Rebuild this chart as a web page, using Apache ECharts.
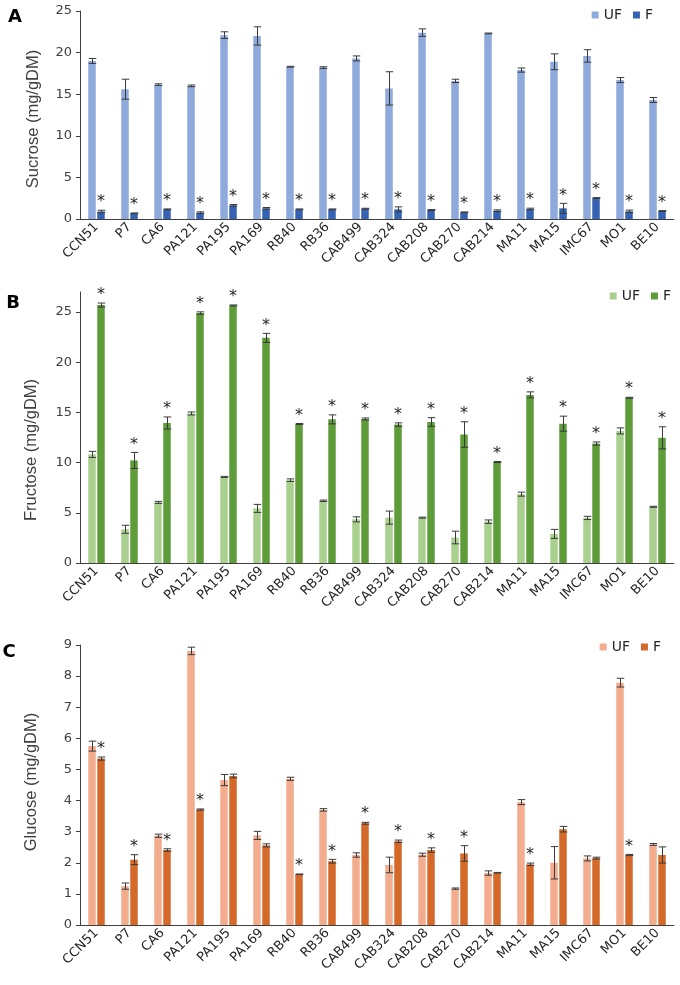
<!DOCTYPE html>
<html><head><meta charset="utf-8">
<script src="https://cdn.jsdelivr.net/npm/echarts@6/dist/echarts.min.js"></script>
<style>html,body{margin:0;padding:0;background:#fff}#chart{width:680px;height:985px}</style>
</head><body><div id="chart"></div>
<script>
const categories = ['CCN51','P7','CA6','PA121','PA195','PA169','RB40','RB36','CAB499','CAB324','CAB208','CAB270','CAB214','MA11','MA15','IMC67','MO1','BE10'];

// Panel A - Sucrose
const sucroseUF    = [19.0, 15.6, 16.15, 16.0, 22.1, 22.0, 18.3, 18.2, 19.3, 15.7, 22.4, 16.6, 22.3, 17.9, 18.9, 19.6, 16.7, 14.3];
const sucroseUFErr = [0.3, 1.2, 0.1, 0.1, 0.4, 1.1, 0.05, 0.1, 0.3, 2.0, 0.45, 0.2, 0.05, 0.25, 0.95, 0.75, 0.3, 0.3];
const sucroseF     = [0.9, 0.68, 1.16, 0.76, 1.64, 1.28, 1.16, 1.16, 1.24, 1.16, 1.08, 0.8, 1.0, 1.2, 1.28, 2.52, 0.92, 0.96];
const sucroseFErr  = [0.15, 0.05, 0.05, 0.1, 0.1, 0.1, 0.05, 0.05, 0.05, 0.3, 0.05, 0.05, 0.1, 0.1, 0.6, 0.05, 0.15, 0.05];
const sucroseSig   = [1,1,1,1,1,1,1,1,1,1,1,1,1,1,1,1,1,1];

// Panel B - Fructose
const fructoseUF    = [10.82, 3.36, 6.04, 14.9, 8.58, 5.44, 8.25, 6.2, 4.35, 4.52, 4.52, 2.54, 4.12, 6.86, 2.9, 4.49, 13.16, 5.6];
const fructoseUFErr = [0.3, 0.4, 0.1, 0.15, 0.05, 0.4, 0.13, 0.07, 0.25, 0.65, 0.05, 0.63, 0.17, 0.2, 0.45, 0.16, 0.3, 0.05];
const fructoseF     = [25.7, 10.22, 13.95, 24.9, 25.66, 22.43, 13.85, 14.31, 14.35, 13.79, 14.05, 12.8, 10.06, 16.75, 13.88, 11.9, 16.46, 12.47];
const fructoseFErr  = [0.2, 0.8, 0.6, 0.12, 0.05, 0.45, 0.05, 0.45, 0.1, 0.17, 0.43, 1.27, 0.05, 0.3, 0.75, 0.16, 0.05, 1.1];
const fructoseSig   = [1,1,1,1,1,1,1,1,1,1,1,1,1,1,1,1,1,1];

// Panel C - Glucose
const glucoseUF    = [5.75, 1.25, 2.87, 8.81, 4.66, 2.88, 4.7, 3.7, 2.25, 1.93, 2.26, 1.17, 1.67, 3.95, 2.0, 2.14, 7.79, 2.59];
const glucoseUFErr = [0.16, 0.1, 0.05, 0.12, 0.18, 0.13, 0.05, 0.04, 0.07, 0.25, 0.05, 0.02, 0.07, 0.08, 0.52, 0.08, 0.14, 0.03];
const glucoseF     = [5.35, 2.1, 2.41, 3.71, 4.79, 2.56, 1.63, 2.05, 3.27, 2.69, 2.41, 2.3, 1.68, 1.95, 3.08, 2.15, 2.25, 2.25];
const glucoseFErr  = [0.05, 0.16, 0.04, 0.02, 0.06, 0.05, 0.01, 0.06, 0.03, 0.04, 0.07, 0.25, 0.01, 0.04, 0.09, 0.03, 0.02, 0.26];
const glucoseSig   = [1,1,1,1,0,0,1,1,1,1,1,1,0,1,0,0,1,0];

const yTicksA = [0, 5, 10, 15, 20, 25];
const yTicksB = [0, 5, 10, 15, 20, 25];
const yTicksC = [0, 1, 2, 3, 4, 5, 6, 7, 8, 9];

const panels = [
  { key: 'A', title: 'Sucrose (mg/gDM)', uf: sucroseUF, ufErr: sucroseUFErr, f: sucroseF, fErr: sucroseFErr, sig: sucroseSig,
    ticks: yTicksA, max: 25, colors: ['#8EA9DB', '#3562B2'],
    grid: { left: 80, width: 594, top: 11, height: 208 }, legend: { right: 27, top: 8 }, titlePos: [33, 119], letterPos: [15, 17] },
  { key: 'B', title: 'Fructose (mg/gDM)', uf: fructoseUF, ufErr: fructoseUFErr, f: fructoseF, fErr: fructoseFErr, sig: fructoseSig,
    ticks: yTicksB, max: 27, colors: ['#A9D08E', '#5E9C3A'],
    grid: { left: 80, width: 594, top: 292, height: 271 }, legend: { right: 9, top: 289 }, titlePos: [31, 450], letterPos: [13, 303] },
  { key: 'C', title: 'Glucose (mg/gDM)', uf: glucoseUF, ufErr: glucoseUFErr, f: glucoseF, fErr: glucoseFErr, sig: glucoseSig,
    ticks: yTicksC, max: 9, colors: ['#F3AC8E', '#D4692A'],
    grid: { left: 80, width: 594, top: 645, height: 280 }, legend: { right: 19, top: 640 }, titlePos: [31, 782], letterPos: [9, 652] }
];

const FONT = 'DejaVu Sans';
const CAT_GAP = 0.5, BAR_GAP = 0.2;

function errRender(params, api) {
  const i = api.value(0);
  const bandW = api.size([1, 0])[0];
  const barW = bandW * (1 - CAT_GAP) / (2 + BAR_GAP);
  const off = barW * (1 + BAR_GAP) / 2;
  const cx = api.coord([i, 0])[0];
  const children = [];
  const st = { stroke: '#3a3a3a', lineWidth: 1 };
  [[api.value(1), api.value(2), -off], [api.value(3), api.value(4), off]].forEach(function (it) {
    const v = it[0], e = it[1], x = Math.round(cx + it[2]) + 0.5, h = barW / 2;
    const yt = api.coord([i, v + e])[1], yb = api.coord([i, v - e])[1];
    children.push({ type: 'line', shape: { x1: x, y1: yt, x2: x, y2: yb }, style: st });
    children.push({ type: 'line', shape: { x1: x - h, y1: yt, x2: x + h, y2: yt }, style: st });
    children.push({ type: 'line', shape: { x1: x - h, y1: yb, x2: x + h, y2: yb }, style: st });
  });
  if (api.value(5)) {
    const yt = api.coord([i, api.value(3) + api.value(4)])[1];
    children.push({ type: 'text', x: cx + off, y: yt - 8,
      style: { text: '*', fontFamily: FONT, fontSize: 16, fill: '#262626', align: 'center', verticalAlign: 'middle' } });
  }
  return { type: 'group', children: children };
}

const option = {
  animation: false,
  backgroundColor: '#ffffff',
  grid: [], xAxis: [], yAxis: [], legend: [], series: [], graphic: []
};

panels.forEach(function (p, k) {
  option.grid.push(Object.assign({ containLabel: false }, p.grid));
  option.xAxis.push({
    type: 'category', gridIndex: k, data: categories,
    axisLine: { lineStyle: { color: '#404040', width: 1 } },
    axisTick: { alignWithLabel: true, length: 4, lineStyle: { color: '#404040' } },
    axisLabel: { interval: 0, rotate: 45, margin: 6, fontFamily: FONT, fontSize: 13, color: '#262626' }
  });
  option.yAxis.push({
    type: 'value', gridIndex: k, min: 0, max: p.max, interval: p.ticks[1] - p.ticks[0],
    splitLine: { show: false },
    axisLine: { show: true, lineStyle: { color: '#404040', width: 1 } },
    axisTick: { show: true, length: 4, lineStyle: { color: '#404040' }, customValues: p.ticks },
    axisLabel: { margin: 8, fontFamily: FONT, fontSize: 13, color: '#404040', customValues: p.ticks }
  });
  option.legend.push({
    data: [p.key + '-UF', p.key + '-F'], right: p.legend.right, top: p.legend.top, padding: 0,
    icon: 'rect', itemWidth: 7, itemHeight: 7, itemGap: 11, selectedMode: false,
    formatter: function (n) { return n.split('-')[1]; },
    textStyle: { fontFamily: FONT, fontSize: 14, color: '#262626' }
  });
  option.series.push({
    name: p.key + '-UF', type: 'bar', xAxisIndex: k, yAxisIndex: k, data: p.uf,
    itemStyle: { color: p.colors[0] }, barGap: (BAR_GAP * 100) + '%', barCategoryGap: (CAT_GAP * 100) + '%'
  });
  option.series.push({
    name: p.key + '-F', type: 'bar', xAxisIndex: k, yAxisIndex: k, data: p.f,
    itemStyle: { color: p.colors[1] }, barGap: (BAR_GAP * 100) + '%', barCategoryGap: (CAT_GAP * 100) + '%'
  });
  option.series.push({
    type: 'custom', xAxisIndex: k, yAxisIndex: k, z: 10, silent: true,
    renderItem: errRender, encode: { x: 0, y: 1 },
    data: categories.map(function (c, i) { return [i, p.uf[i], p.ufErr[i], p.f[i], p.fErr[i], p.sig[i]]; })
  });
  option.graphic.push({
    type: 'text', x: p.titlePos[0], y: p.titlePos[1], rotation: Math.PI / 2,
    style: { text: p.title, fontFamily: 'Liberation Sans', fontSize: 16.5, fill: '#404040', align: 'center', verticalAlign: 'middle' }
  });
  option.graphic.push({
    type: 'text', x: p.letterPos[0], y: p.letterPos[1],
    style: { text: p.key, fontFamily: FONT, fontWeight: 'bold', fontSize: 18, fill: '#000', align: 'center', verticalAlign: 'middle' }
  });
});

const chart = echarts.init(document.getElementById('chart'), null, { renderer: 'canvas' });
chart.setOption(option);
</script>
</body></html>
